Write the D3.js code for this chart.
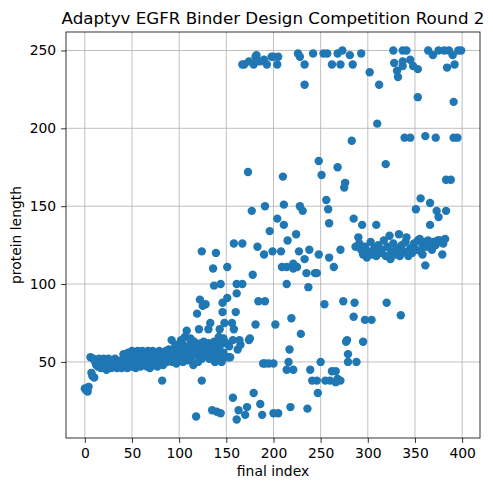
<!DOCTYPE html>
<html>
<head>
<meta charset="utf-8">
<script src="https://cdn.jsdelivr.net/npm/d3@7"></script>
<style>
  body { margin: 0; background: #fff; }
  svg { font-family: "DejaVu Sans", sans-serif; }
</style>
</head>
<body>
<svg id="chart" width="493" height="490"></svg>
<script>
// final index / protein length pairs in bands
const bandLowIdx = [0, 1, 3, 4, 6, 7, 8, 10,
  9, 11, 12, 13, 14, 15, 16, 17, 18, 19, 20, 21, 22, 23, 24, 25, 26, 27, 28, 29, 30,
  31, 32, 33, 34, 35, 36, 37, 38, 39, 40]
const bandLowLen = [33, 32, 31, 34, 53, 43, 41, 40,
  52, 50, 48, 51, 47, 52, 49, 46, 51, 48, 52, 47, 50, 45, 49, 52, 47, 50, 46, 48, 51,
  47, 52, 49, 46, 50, 47, 48, 51, 46, 49]

const bandMidIdx = [41, 42, 43, 44, 45, 46, 47, 48, 49, 50, 51, 52, 53, 54, 55, 56, 57, 58, 59, 60,
  61, 62, 63, 64, 65, 66, 67, 68, 69, 70, 71, 72, 73, 74, 75, 76, 77, 78, 79, 80,
  81, 82, 83, 84, 85, 86, 87, 88, 89, 90, 91, 92, 93, 94, 95, 96, 97, 98, 99, 100,
  101, 102, 103, 104, 105, 106, 107, 108, 109, 110, 111, 112, 113, 114, 115, 116, 117,
  118, 120, 121, 122, 123, 124, 125, 126, 127, 128, 129, 130, 131, 132, 133, 134, 135,
  136, 137, 138, 139, 140, 141, 142, 143, 144, 145, 147, 149, 152, 154,
  102, 106, 112, 116, 142, 147, 150, 153, 157, 162, 165]
const bandMidLen = [55, 47, 50, 52, 46, 56, 49, 53, 47, 57, 50, 48, 55, 46, 52, 57, 49, 54, 47, 51,
  57, 48, 55, 50, 53, 47, 57, 51, 46, 55, 49, 57, 52, 48, 56, 50, 47, 54, 57, 51,
  55, 38, 48, 56, 52, 57, 50, 54, 58, 52, 56, 64, 50, 58, 53, 61, 49, 57, 55, 60,
  52, 58, 62, 50, 56, 59, 54, 70, 51, 60, 57, 62, 53, 58, 48, 61, 56,
  55, 50, 59, 55, 62, 52, 57, 63, 54, 60, 54, 58, 62, 52, 56, 60, 53,
  57, 63, 50, 55, 60, 52, 58, 54, 61, 50, 56, 53, 53, 53,
  64, 66, 65, 63, 66, 65, 62, 60, 64, 58, 61]

const scatterIdx = [119, 121, 122, 124, 124, 125, 128, 131, 133, 136, 137, 139, 143, 144, 146,
  146, 148, 151, 151, 156, 158, 158, 160, 161, 161, 164, 167, 167, 174, 175, 178, 181, 184,
  183, 190, 191, 191, 196, 199, 202, 204, 208, 209, 210, 211, 211, 173, 177, 191, 214, 214,
  215, 219, 221, 221, 224, 225, 227, 228, 229, 231, 233, 235, 237, 238, 244, 246, 248, 248,
  251, 254, 256, 258, 259, 259, 264, 268, 271, 274, 275, 276, 278, 277, 283, 285, 286, 285,
  287, 290, 294, 295, 297, 304, 309, 320, 319, 335, 351, 356, 366, 373, 383, 375, 366, 383,
  388, 379, 361, 358, 376]
const scatterLen = [81, 71, 90, 121, 38, 86, 87, 71, 75, 110, 99, 120, 71, 100, 88,
  82, 75, 111, 91, 75, 126, 71, 82, 100, 94, 64, 126, 100, 64, 65, 106, 74, 89,
  124, 119, 89, 49, 134, 121, 74, 142, 121, 111, 169, 138, 151, 172, 147, 150, 111, 100,
  128, 78, 113, 110, 132, 111, 121, 150, 68, 147, 116, 107, 98, 122, 107, 107, 119, 179,
  170, 87, 154, 148, 139, 117, 111, 175, 122, 89, 162, 165, 64, 63, 192, 142, 88, 79,
  124, 130, 138, 63, 77, 77, 138, 88, 177, 80, 148, 155, 152, 147, 147, 143, 138, 167,
  167, 119, 112, 119, 128]

const lowIdx = [118, 135, 140, 144, 157, 161, 163, 170, 172, 179, 186, 188, 200, 205, 218, 236, 247,
  189, 195, 200, 216, 214, 221, 217, 239, 250, 241, 246, 255, 260, 262, 266, 268, 271, 266,
  279, 279, 288]
const lowLen = [15, 19, 18, 17, 27, 13, 19, 16, 21, 30, 23, 16, 17, 17, 21, 20, 30,
  49, 49, 49, 50, 45, 45, 58, 45, 50, 38, 38, 38, 38, 44, 44, 39, 38, 37,
  55, 50, 50]

const clusterIdx = [291, 293, 295, 297, 299, 301, 303, 305, 307, 309, 311, 313, 315, 317, 319,
  321, 323, 324, 325, 327, 329, 331, 333, 334, 336, 338, 340, 341, 343, 345, 347, 349, 351,
  353, 355, 356, 358, 360, 362, 364, 366, 368, 370, 372, 374, 376, 378, 380, 382]
const clusterLen = [126, 122, 119, 124, 117, 121, 127, 119, 123, 118, 125, 120, 122, 128, 118,
  124, 131, 116, 121, 126, 119, 123, 132, 118, 125, 121, 127, 130, 118, 123, 120, 126, 122,
  128, 129, 121, 125, 127, 124, 128, 126, 122, 127, 125, 128, 128, 127, 126, 129]

const topIdx = [167, 169, 174, 179, 181, 182, 183, 186, 190, 193, 198, 200, 204, 205,
  226, 228, 233, 233, 242, 253, 257, 262, 268, 271, 273, 281, 284, 293, 302, 312, 310,
  327, 328, 331, 332, 337, 337, 337, 341, 345, 348, 353, 353, 364, 369, 375, 381, 384, 386,
  390, 391, 392, 396, 399, 339, 345, 361, 372, 391, 395]
const topLen = [241, 241, 243, 241, 246, 247, 243, 243, 244, 241, 246, 246, 241, 246,
  248, 246, 241, 228, 248, 248, 248, 241, 248, 241, 250, 247, 241, 248, 236, 228, 203,
  250, 242, 237, 233, 250, 243, 240, 250, 244, 240, 238, 220, 250, 247, 250, 250, 239, 250,
  247, 217, 241, 250, 250, 194, 194, 195, 194, 194, 194]

const xTicks = [0, 50, 100, 150, 200, 250, 300, 350, 400]
const yTicks = [50, 100, 150, 200, 250]

const finalIndex = [].concat(bandLowIdx, bandMidIdx, scatterIdx, lowIdx, clusterIdx, topIdx)
const proteinLength = [].concat(bandLowLen, bandMidLen, scatterLen, lowLen, clusterLen, topLen)
const points = finalIndex.map((x, i) => ({ x: x, y: proteinLength[i] }))

const svg = d3.select('#chart')
const margin = { left: 66, right: 13, top: 32, bottom: 52 }
const width = 493 - margin.left - margin.right
const height = 490 - margin.top - margin.bottom

// matplotlib style 5% margins around the data
function padded(ext) {
  const pad = (ext[1] - ext[0]) * 0.05
  return [ext[0] - pad, ext[1] + pad]
}

const x = d3.scaleLinear().domain(padded(d3.extent(finalIndex))).range([0, width])
const y = d3.scaleLinear().domain(padded(d3.extent(proteinLength))).range([height, 0])

const g = svg.append('g').attr('transform', `translate(${margin.left},${margin.top})`)

// grid
g.append('g').selectAll('line').data(xTicks).enter().append('line')
  .attr('x1', d => x(d)).attr('x2', d => x(d))
  .attr('y1', 0).attr('y2', height)
  .attr('stroke', '#b0b0b0').attr('stroke-width', 0.8)
g.append('g').selectAll('line').data(yTicks).enter().append('line')
  .attr('x1', 0).attr('x2', width)
  .attr('y1', d => y(d)).attr('y2', d => y(d))
  .attr('stroke', '#b0b0b0').attr('stroke-width', 0.8)

g.append('g').selectAll('circle')
  .data(points)
  .enter()
  .append('circle')
  .attr('cx', d => x(d.x))
  .attr('cy', d => y(d.y))
  .attr('r', 4.2)
  .style('fill', '#1f77b4')

const xAxis = g.append('g')
  .attr('transform', `translate(0,${height})`)
  .call(d3.axisBottom(x).tickValues(xTicks).tickSize(4.9).tickPadding(4.9))
const yAxis = g.append('g')
  .call(d3.axisLeft(y).tickValues(yTicks).tickSize(4.9).tickPadding(4.9))

for (const ax of [xAxis, yAxis]) {
  ax.select('.domain').remove()
  ax.selectAll('line').attr('stroke', '#000').attr('stroke-width', 0.8)
  ax.selectAll('text').attr('fill', '#000')
    .style('font-size', '13.9px').style('font-family', '"DejaVu Sans", sans-serif')
}

g.append('rect')
  .attr('width', width).attr('height', height)
  .attr('fill', 'none').attr('stroke', '#000').attr('stroke-width', 0.8)

svg.append('text')
  .attr('x', margin.left + width / 2).attr('y', 24)
  .attr('text-anchor', 'middle')
  .style('font-size', '16.7px')
  .text('Adaptyv EGFR Binder Design Competition Round 2')

svg.append('text')
  .attr('x', margin.left + width / 2).attr('y', 476)
  .attr('text-anchor', 'middle')
  .style('font-size', '13.9px')
  .text('final index')

svg.append('text')
  .attr('transform', `translate(21,${margin.top + height / 2}) rotate(-90)`)
  .attr('text-anchor', 'middle')
  .style('font-size', '13.9px')
  .text('protein length')
</script>
</body>
</html>
